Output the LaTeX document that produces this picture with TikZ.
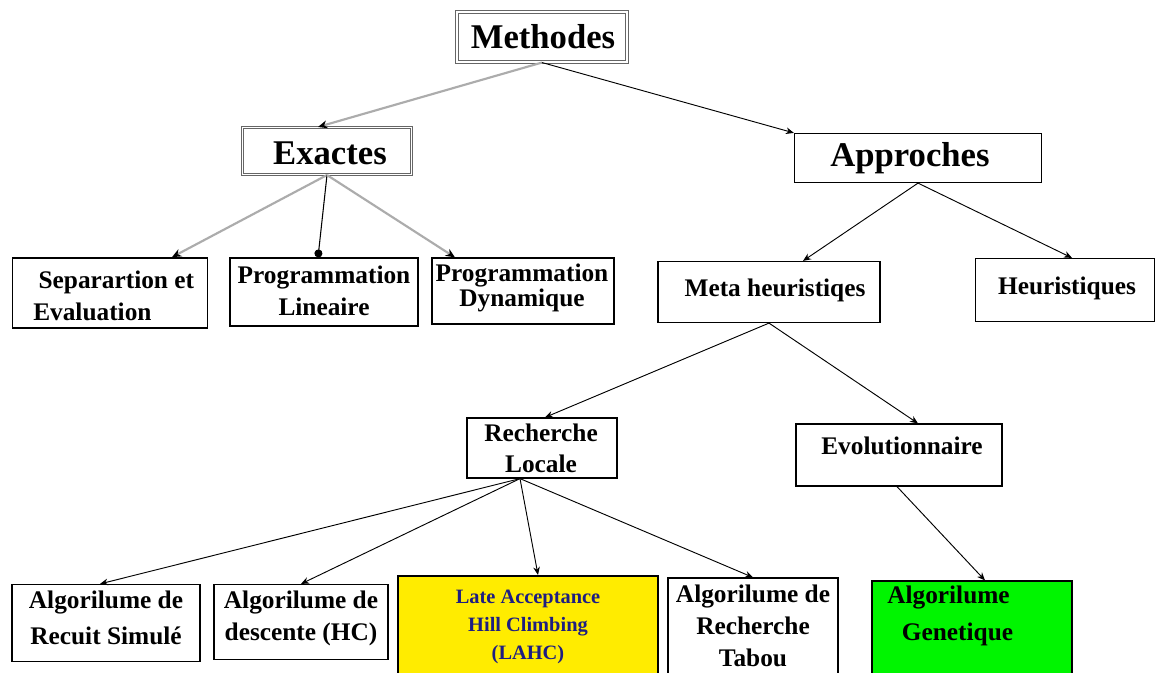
\documentclass[tikz,border=0pt]{standalone}
\usepackage{fontspec}
\setmainfont{Liberation Serif}
\usetikzlibrary{arrows.meta,calc}
\definecolor{lyel}{RGB}{255,236,0}
\definecolor{lgrn}{RGB}{0,245,0}
\definecolor{navy}{RGB}{30,30,130}
\tikzset{
  bx/.style={draw=black,line width=0.9pt,inner sep=0pt},
  topbx/.style={draw=gray!80!black,double=white,double distance=0.9pt,line width=0.8pt,inner sep=0pt},
  txt/.style={inner sep=0pt,align=center,font=\fontsize{19}{24}\selectfont\bfseries},
  bigtxt/.style={inner sep=0pt,font=\fontsize{26}{30}\selectfont\bfseries},
  conn/.style={line width=0.7pt,-{Stealth[length=6pt,width=5pt]}},
  gconn/.style={line width=1.6pt,draw=gray!65,-{Stealth[length=7pt,width=6pt,color=black]}}
}
\begin{document}
\begin{tikzpicture}[x=0.75pt,y=-0.75pt]
\useasboundingbox (0,0) rectangle (1160,672);
\fill[white] (0,0) rectangle (1160,672);
\clip (0,0) rectangle (1160,672);
% boxes
\node[topbx,minimum width=170*0.75pt,minimum height=50*0.75pt] (meth) at (542,37) {};
\node[topbx,minimum width=169*0.75pt,minimum height=47*0.75pt] (exa) at (327,151) {};
\node[bx,minimum width=247*0.75pt,minimum height=49*0.75pt] (app) at (918,158) {};
\node[bx,line width=1.3pt,minimum width=195*0.75pt,minimum height=70*0.75pt] (sep) at (110,293) {};
\node[bx,minimum width=188*0.75pt,minimum height=68*0.75pt] (lin) at (324,292) {};
\node[bx,minimum width=182*0.75pt,minimum height=66*0.75pt] (dyn) at (523,291) {};
\node[bx,minimum width=222*0.75pt,minimum height=61*0.75pt] (meta) at (769,292) {};
\node[bx,minimum width=179*0.75pt,minimum height=63*0.75pt] (heur) at (1065,290) {};
\node[bx,minimum width=150*0.75pt,minimum height=60*0.75pt] (rl) at (542,448) {};
\node[bx,minimum width=206*0.75pt,minimum height=62*0.75pt] (evo) at (899,455) {};
\node[bx,minimum width=188*0.75pt,minimum height=77*0.75pt] (rec) at (106,623) {};
\node[bx,minimum width=174*0.75pt,minimum height=75*0.75pt] (des) at (301,622) {};
\node[bx,line width=1.6pt,fill=lyel,minimum width=260*0.75pt,minimum height=112*0.75pt] (lahc) at (528,632) {};
\node[bx,minimum width=170*0.75pt,minimum height=110*0.75pt] (tab) at (753,633) {};
\node[bx,fill=lgrn,minimum width=200*0.75pt,minimum height=104*0.75pt] (gen) at (972,633) {};
% texts
\node[bigtxt] (metht) at (543,37) {Methodes};
\node[bigtxt] (exat) at (330,153) {Exactes};
\node[bigtxt] (appt) at (910,158) {Approches};
\node[txt,align=left,anchor=west] (sept) at (33,296) {\hspace*{4pt}Separartion et\\Evaluation};
\node[txt] (lint) at (324,291) {Programmation\\Lineaire};
\node[txt,font=\fontsize{19}{19}\selectfont\bfseries] (dynt) at (522,288) {Programmation\\Dynamique};
\node[txt] (metat) at (775,290) {Meta heuristiqes};
\node[txt] (heurt) at (1067,288) {Heuristiques};
\node[txt,font=\fontsize{19}{23}\selectfont\bfseries] (rlt) at (541,448) {Recherche\\Locale};
\node[txt] (evot) at (902,446) {Evolutionnaire};
\node[txt,font=\fontsize{19}{27}\selectfont\bfseries] (rect) at (106,618) {Algorilume de\\Recuit Simulé};
\node[txt] (dest) at (301,618) {Algorilume de\\descente (HC)};
\node[txt,text=navy,font=\fontsize{15.3}{21}\selectfont\bfseries] (lahct) at (528,627) {Late Acceptance\\Hill Climbing\\(LAHC)};
\node[txt] (tabt) at (753,626) {Algorilume de\\Recherche\\Tabou};
\node[txt,align=left,anchor=west,font=\fontsize{19}{28}\selectfont\bfseries] (gent) at (887,616) {Algorilume\\\hspace*{11pt}Genetique};
% connectors
\draw[gconn] (meth.south) -- ($(exa.north)+(-9,0)$);
\draw[conn] (meth.south) -- (app.north west);
\draw[gconn] (exa.south) -- ($(sep.north)+(62,0)$);
\draw[line width=0.8pt,-{Circle[length=6pt]}] (exa.south) -- ($(lin.north)+(-6,0)$);
\draw[gconn] (exa.south) -- ($(dyn.north)+(-68,0)$);
\draw[conn] (app.south) -- ($(meta.north)+(34,0)$);
\draw[conn] (app.south) -- ($(heur.north)+(7,0)$);
\draw[conn] (meta.south) -- ($(rl.north)+(3,0)$);
\draw[conn] (meta.south) -- ($(evo.north)+(19,0)$);
\coordinate (rlo) at ($(rl.south)+(-22,0)$);
\draw[conn] (rlo) -- ($(rec.north)+(-6,0)$);
\draw[conn] (rlo) -- (des.north);
\draw[conn] (rlo) -- ($(lahc.north)+(10,0)$);
\draw[conn] (rlo) -- (tab.north);
\draw[conn] ($(evo.south)+(-2,0)$) -- ($(gen.north)+(13,0)$);
\end{tikzpicture}
\end{document}
